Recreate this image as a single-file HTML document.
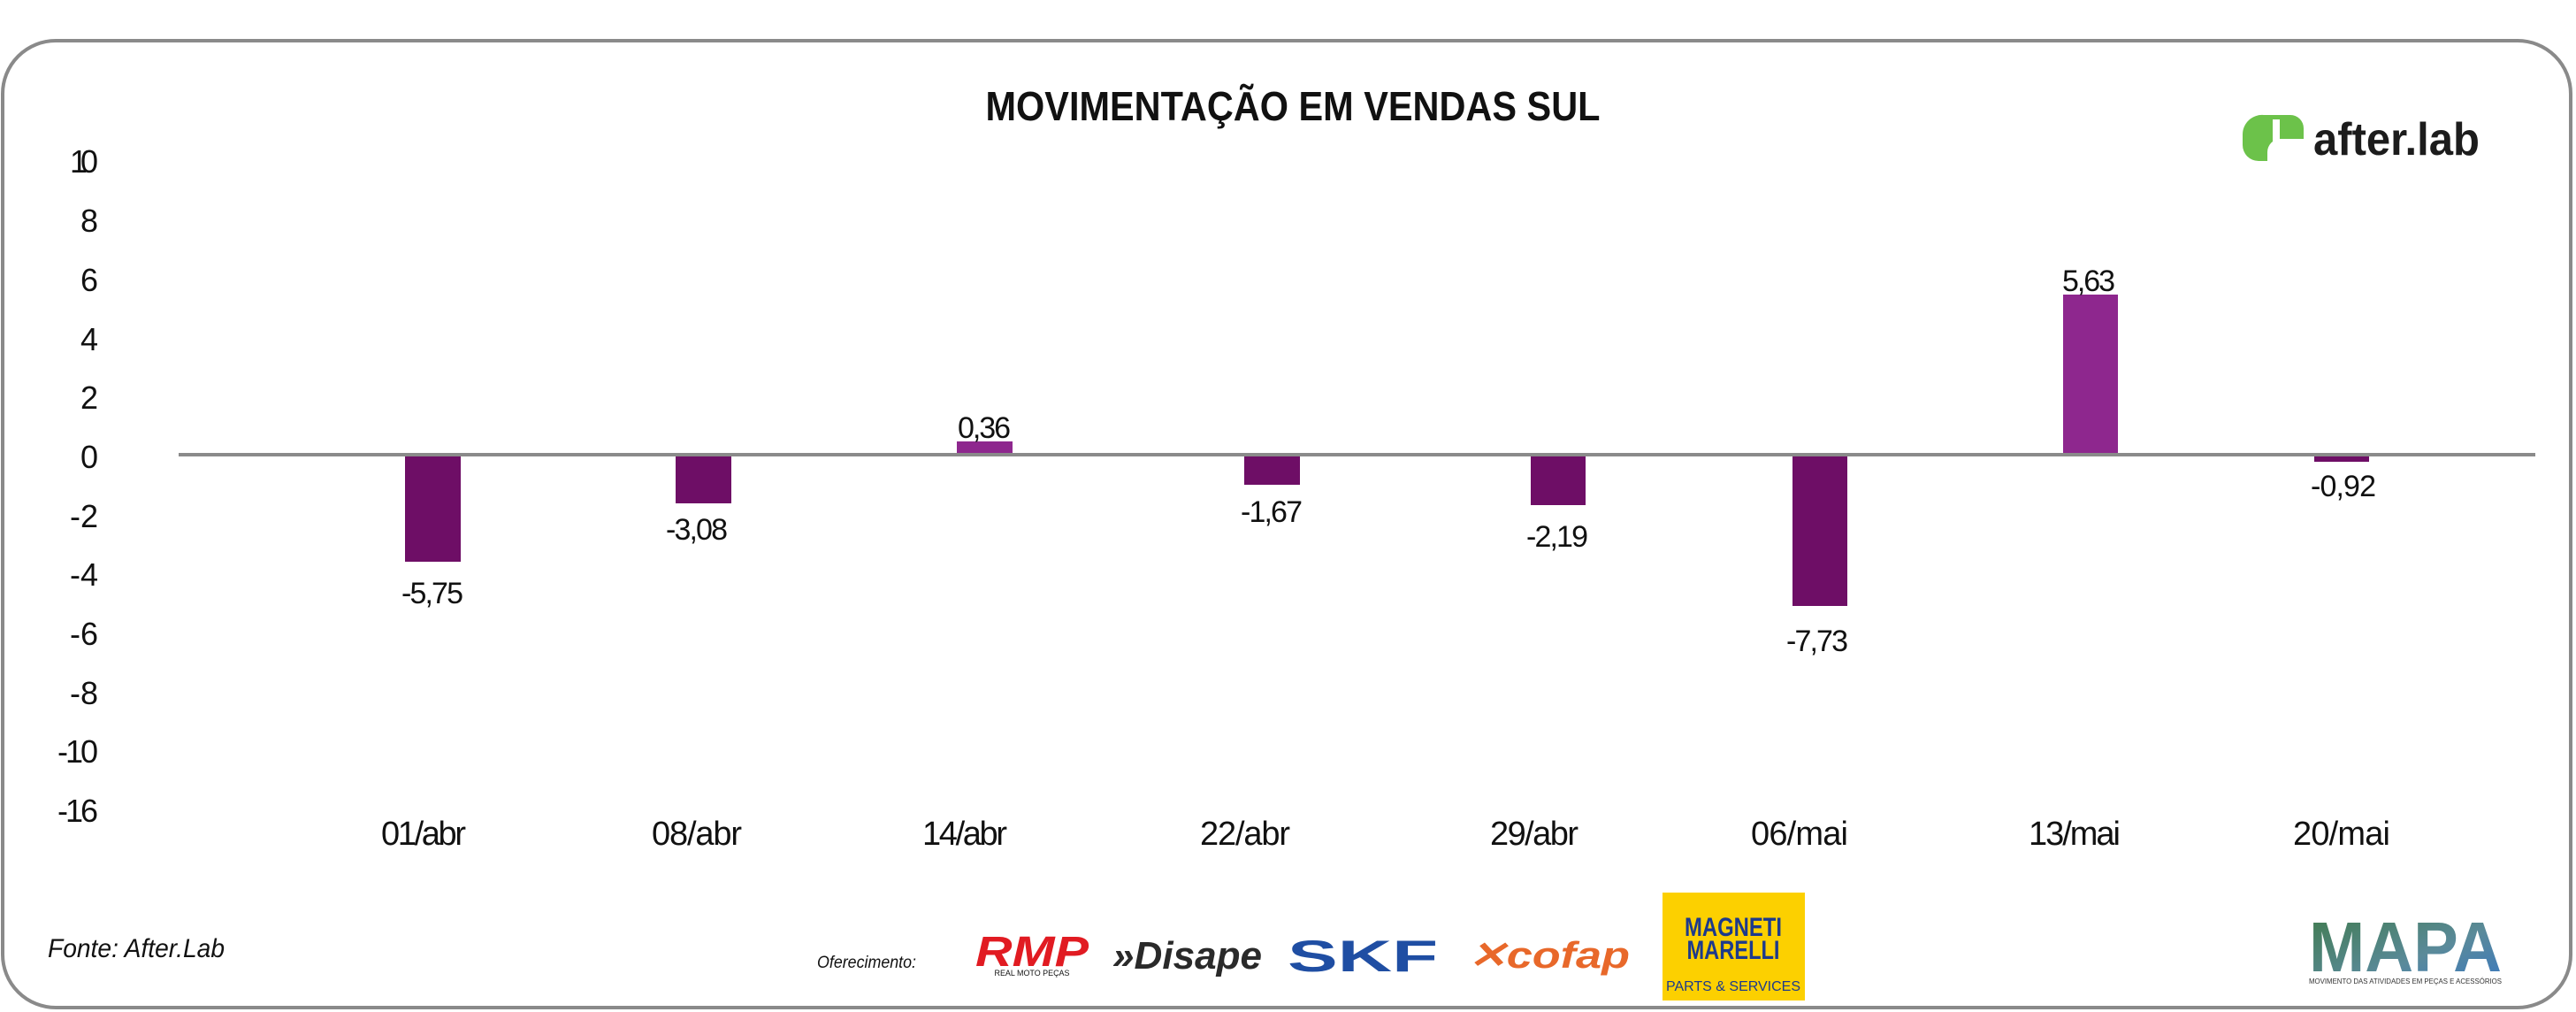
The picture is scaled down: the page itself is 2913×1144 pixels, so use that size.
<!DOCTYPE html>
<html><head><meta charset="utf-8"><style>
html,body{margin:0;padding:0;background:#fff;}
svg{display:block;}
text{font-family:"Liberation Sans Narrow","Liberation Sans",sans-serif;fill:#111;}
</style></head><body>
<svg width="2913" height="1144" viewBox="0 0 2913 1144" xmlns="http://www.w3.org/2000/svg">
<rect x="3" y="46" width="2904" height="1093" rx="60" ry="60" fill="#fff" stroke="#8a8a8a" stroke-width="4"/>
<text x="1462" y="136" text-anchor="middle" font-size="46" font-weight="bold" style="font-family:'Liberation Sans',sans-serif" textLength="695" lengthAdjust="spacingAndGlyphs">MOVIMENTAÇÃO EM VENDAS SUL</text>
<!-- after.lab logo -->
<path d="M2560 130 h30 a15 15 0 0 1 15 15 v12 h-26 a15 15 0 0 0 -15 15 v10 h-10 a18 18 0 0 1 -18 -18 v-12 a22 22 0 0 1 24 -22z" fill="#6cc24a"/>
<rect x="2570" y="135" width="8" height="30" fill="#fff"/>
<text x="2616" y="175" font-size="52" font-weight="bold" textLength="188" lengthAdjust="spacingAndGlyphs" style="fill:#1c1c1c">after.lab</text>
<!-- y axis -->
<g font-size="36" text-anchor="end" lengthAdjust="spacingAndGlyphs">
<text x="111" y="195" textLength="32">10</text><text x="111" y="262" textLength="17">8</text><text x="111" y="329" textLength="17">6</text>
<text x="111" y="396" textLength="17">4</text><text x="111" y="462" textLength="17">2</text><text x="111" y="529" textLength="17">0</text>
<text x="111" y="596" textLength="32">-2</text><text x="111" y="662" textLength="32">-4</text><text x="111" y="729" textLength="32">-6</text>
<text x="111" y="796" textLength="32">-8</text><text x="111" y="862" textLength="46">-10</text><text x="111" y="929" textLength="46">-16</text>
</g>
<!-- bars -->
<g fill="#6e0e66">
<rect x="458" y="514" width="63" height="121"/>
<rect x="764" y="514" width="63" height="55"/>
<rect x="1407" y="514" width="63" height="34"/>
<rect x="1731" y="514" width="62" height="57"/>
<rect x="2027" y="514" width="62" height="171"/>
<rect x="2617" y="514" width="62" height="8"/>
</g>
<g fill="#8e278e">
<rect x="1082" y="499" width="63" height="15"/>
<rect x="2333" y="333" width="62" height="181"/>
</g>
<line x1="202" y1="514" x2="2867" y2="514" stroke="#8a8a8a" stroke-width="4"/>
<!-- value labels -->
<g font-size="34" text-anchor="middle" lengthAdjust="spacingAndGlyphs">
<text x="489" y="682" textLength="70">-5,75</text><text x="788" y="610" textLength="70">-3,08</text>
<text x="1113" y="495" textLength="60">0,36</text><text x="1438" y="590" textLength="70">-1,67</text>
<text x="1761" y="618" textLength="70">-2,19</text><text x="2055" y="736" textLength="70">-7,73</text>
<text x="2362" y="329" textLength="60">5,63</text><text x="2650" y="561" textLength="74">-0,92</text>
</g>
<!-- x labels -->
<g font-size="38" text-anchor="middle" lengthAdjust="spacingAndGlyphs">
<text x="479" y="955" textLength="96">01/abr</text><text x="788" y="955" textLength="102">08/abr</text>
<text x="1091" y="955" textLength="96">14/abr</text><text x="1408" y="955" textLength="102">22/abr</text>
<text x="1735" y="955" textLength="100">29/abr</text><text x="2035" y="955" textLength="110">06/mai</text>
<text x="2346" y="955" textLength="104">13/mai</text><text x="2648" y="955" textLength="110">20/mai</text>
</g>
<text x="54" y="1082" font-size="30" font-style="italic" textLength="200" lengthAdjust="spacingAndGlyphs">Fonte: After.Lab</text>
<text x="924" y="1094" font-size="19" font-style="italic" textLength="112" lengthAdjust="spacingAndGlyphs">Oferecimento:</text>
<!-- sponsor logos -->
<text x="1103" y="1092" font-size="48" font-weight="bold" font-style="italic" style="fill:#e11b22;font-family:'Liberation Sans',sans-serif" textLength="128" lengthAdjust="spacingAndGlyphs">RMP</text>
<text x="1167" y="1103" font-size="9" text-anchor="middle" textLength="85" lengthAdjust="spacingAndGlyphs">REAL MOTO PEÇAS</text>
<text x="1258" y="1095" font-size="44" font-weight="bold" font-style="italic" style="fill:#2a2a2a;font-family:'Liberation Sans',sans-serif" textLength="169" lengthAdjust="spacingAndGlyphs">»Disape</text>
<text x="1456" y="1098" font-size="50" font-weight="bold" style="fill:#1f4ea3;font-family:'Liberation Sans',sans-serif" textLength="170" lengthAdjust="spacingAndGlyphs">SKF</text>
<text x="1660" y="1094" font-size="42" font-weight="bold" font-style="italic" style="fill:#e8682a;font-family:'Liberation Sans',sans-serif" textLength="183" lengthAdjust="spacingAndGlyphs">✕cofap</text>
<rect x="1880" y="1009" width="161" height="122" fill="#fcd000"/>
<text x="1960" y="1058" font-size="30" font-weight="bold" text-anchor="middle" style="fill:#1d3a8c" textLength="110" lengthAdjust="spacingAndGlyphs">MAGNETI</text>
<text x="1960" y="1084" font-size="30" font-weight="bold" text-anchor="middle" style="fill:#1d3a8c" textLength="105" lengthAdjust="spacingAndGlyphs">MARELLI</text>
<text x="1960" y="1120" font-size="16" text-anchor="middle" style="fill:#1d3a8c">PARTS &amp; SERVICES</text>
<defs><linearGradient id="mg" x1="0" y1="0" x2="1" y2="1"><stop offset="0" stop-color="#3f7a4a"/><stop offset="0.6" stop-color="#5a8a9a"/><stop offset="1" stop-color="#3a78c0"/></linearGradient></defs>
<text x="2611" y="1098" font-size="80" font-weight="bold" style="fill:url(#mg);font-family:'Liberation Sans',sans-serif" textLength="218" lengthAdjust="spacingAndGlyphs">MAPA</text>
<text x="2720" y="1112" font-size="8" text-anchor="middle" style="fill:#333" textLength="218" lengthAdjust="spacingAndGlyphs">MOVIMENTO DAS ATIVIDADES EM PEÇAS E ACESSÓRIOS</text>
</svg>
</body></html>
